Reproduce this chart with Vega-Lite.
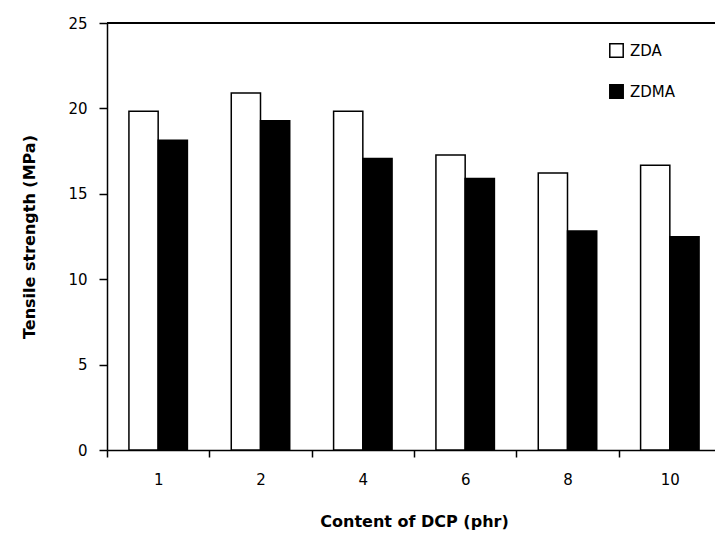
{
  "$schema": "https://vega.github.io/schema/vega-lite/v6.json",
  "autosize": "none",
  "padding": {"left": 107, "top": 23, "right": 0, "bottom": 91},
  "width": 614,
  "height": 427,
  "background": "white",
  "config": {
    "view": {"stroke": null},
    "font": "DejaVu Sans"
  },
  "data": {
    "values": [
      {"dcp": "1", "sample": "ZDA", "ts": 19.83},
      {"dcp": "1", "sample": "ZDMA", "ts": 18.13},
      {"dcp": "2", "sample": "ZDA", "ts": 20.9},
      {"dcp": "2", "sample": "ZDMA", "ts": 19.28},
      {"dcp": "4", "sample": "ZDA", "ts": 19.83},
      {"dcp": "4", "sample": "ZDMA", "ts": 17.06},
      {"dcp": "6", "sample": "ZDA", "ts": 17.27},
      {"dcp": "6", "sample": "ZDMA", "ts": 15.89},
      {"dcp": "8", "sample": "ZDA", "ts": 16.22},
      {"dcp": "8", "sample": "ZDMA", "ts": 12.82},
      {"dcp": "10", "sample": "ZDA", "ts": 16.67},
      {"dcp": "10", "sample": "ZDMA", "ts": 12.49}
    ]
  },
  "layer": [
    {
      "mark": {"type": "bar", "stroke": "black", "strokeWidth": 1.5},
      "encoding": {
        "x": {
          "field": "dcp", "type": "nominal", "sort": ["1", "2", "4", "6", "8", "10"],
          "scale": {"paddingInner": 0, "paddingOuter": 0},
          "axis": {
            "title": "Content of DCP (phr)", "titleFontSize": 16, "titleFontWeight": "bold",
            "titleColor": "black", "titlePadding": 26,
            "labelAngle": 0, "labelFontSize": 15, "labelColor": "black", "labelPadding": 15,
            "tickBand": "extent", "tickColor": "black", "tickWidth": 1.5, "tickSize": 7,
            "domainColor": "black", "domainWidth": 1.5
          }
        },
        "xOffset": {"field": "sample", "type": "nominal", "scale": {"paddingInner": 0, "paddingOuter": 0.75}},
        "y": {
          "field": "ts", "type": "quantitative",
          "scale": {"domain": [0, 25], "nice": false, "zero": true},
          "axis": {
            "title": "Tensile strength (MPa)", "titleFontSize": 16, "titleFontWeight": "bold",
            "titleColor": "black", "titlePadding": 30,
            "values": [0, 5, 10, 15, 20, 25], "grid": false,
            "labelFontSize": 15, "labelColor": "black", "labelPadding": 12,
            "tickColor": "black", "tickWidth": 1.5, "tickSize": 8,
            "domainColor": "black", "domainWidth": 1.5
          }
        },
        "fill": {
          "field": "sample", "type": "nominal",
          "scale": {"domain": ["ZDA", "ZDMA"], "range": ["white", "black"]},
          "legend": {
            "title": null, "orient": "none", "legendX": 502, "legendY": 20,
            "symbolType": "square", "symbolSize": 180, "symbolStrokeColor": "black",
            "symbolStrokeWidth": 1.5, "labelFontSize": 15, "labelColor": "black",
            "rowPadding": 20, "labelOffset": 6
          }
        }
      }
    },
    {
      "mark": {"type": "rule", "color": "black", "strokeWidth": 1.5},
      "encoding": {"y": {"datum": 25, "scale": {"domain": [0, 25], "nice": false}}}
    }
  ]
}
